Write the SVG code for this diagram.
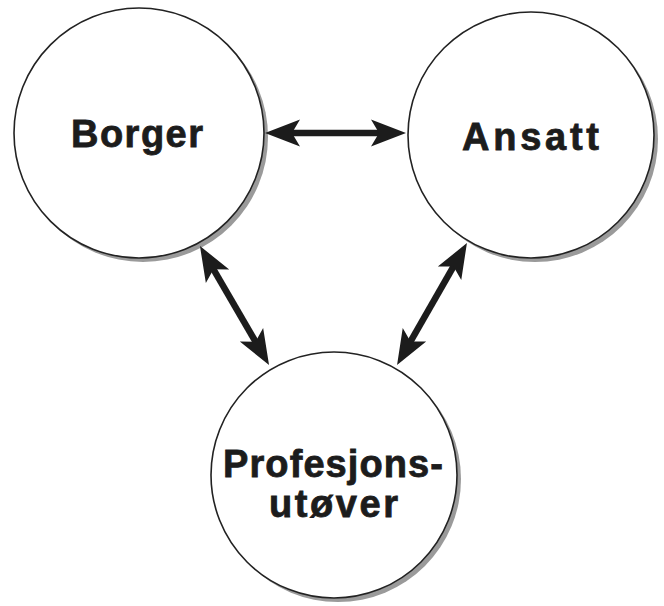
<svg xmlns="http://www.w3.org/2000/svg" width="664" height="606" viewBox="0 0 664 606">
<style>
.shadow{fill:#9a9a9a}
.node{fill:#fff;stroke:#222;stroke-width:1.6}
.lbl{font-family:"Liberation Sans",Arial,sans-serif;font-weight:bold;font-size:38px;fill:#1c1c1c;stroke:#1c1c1c;stroke-width:0.8;text-anchor:middle}
.conn{stroke:#1c1c1c;stroke-width:6.5;fill:none;marker-start:url(#ah);marker-end:url(#ah)}
</style>
<defs>
<marker id="ah" markerUnits="userSpaceOnUse" orient="auto-start-reverse" refX="0" refY="0" markerWidth="60" markerHeight="60" viewBox="-30 -30 60 60" overflow="visible">
<path d="M20,0 L-15,-13.5 L-7,0 L-15,13.5 Z" fill="#1c1c1c"/>
</marker>
</defs>
<rect width="664" height="606" fill="#fff"/>
<g id="borger">
<circle class="shadow" cx="143" cy="137" r="125"/>
<circle class="node" cx="139" cy="133" r="125"/>
<text class="lbl" x="137" y="147" textLength="132" lengthAdjust="spacing">Borger</text>
</g>
<g id="ansatt">
<circle class="shadow" cx="535" cy="139" r="123"/>
<circle class="node" cx="531" cy="135" r="123"/>
<text class="lbl" x="530.5" y="150" textLength="137" lengthAdjust="spacing">Ansatt</text>
</g>
<g id="profesjonsutover">
<circle class="shadow" cx="338" cy="479" r="123"/>
<circle class="node" cx="334" cy="475" r="123"/>
<text class="lbl" x="333" y="477" textLength="220" lengthAdjust="spacing">Profesjons-</text>
<text class="lbl" x="333.5" y="517" textLength="129" lengthAdjust="spacing">utøver</text>
</g>
<g id="connectors">
<line class="conn" x1="285" y1="133" x2="386" y2="133"/>
<line class="conn" x1="210" y1="263.3" x2="259" y2="347.7"/>
<line class="conn" x1="457" y1="260.3" x2="407" y2="347.7"/>
</g>
</svg>
